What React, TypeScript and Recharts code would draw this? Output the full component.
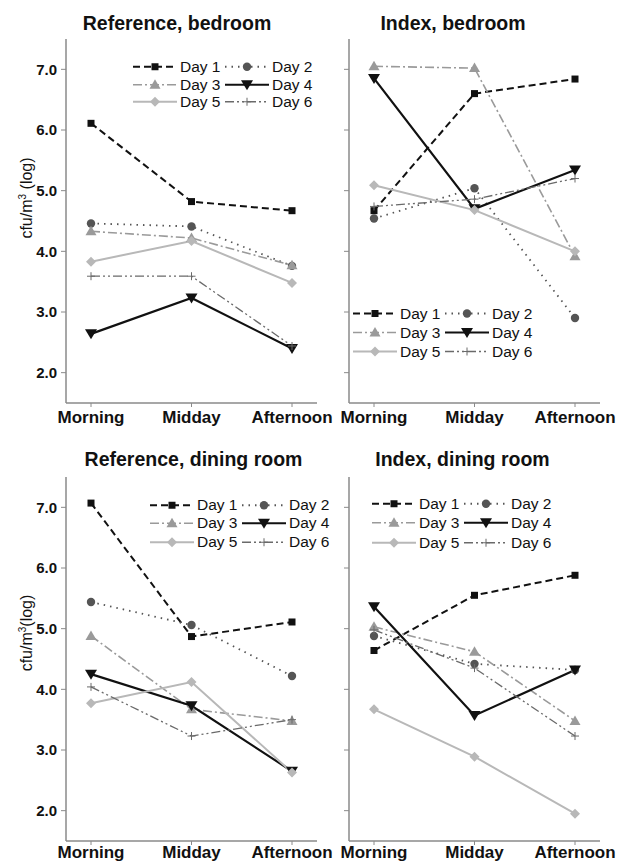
import React from 'react';
import { LineChart, Line, XAxis, YAxis, Legend } from 'recharts';

const times = ['Morning', 'Midday', 'Afternoon'];
const dayNames = ['Day 1', 'Day 2', 'Day 3', 'Day 4', 'Day 5', 'Day 6'];
const yTicks = [2, 3, 4, 5, 6, 7];

// rows: Day 1..Day 6, columns: Morning, Midday, Afternoon
const refBedroom = [
  [6.11, 4.82, 4.67],
  [4.46, 4.41, 3.76],
  [4.33, 4.22, 3.77],
  [2.64, 3.23, 2.4],
  [3.83, 4.17, 3.48],
  [3.59, 3.59, 2.44],
];
const indexBedroom = [
  [4.67, 6.6, 6.84],
  [4.54, 5.04, 2.9],
  [7.05, 7.02, 3.92],
  [6.85, 4.7, 5.34],
  [5.09, 4.68, 4.0],
  [4.74, 4.86, 5.2],
];
const refDining = [
  [7.07, 4.87, 5.11],
  [5.44, 5.06, 4.22],
  [4.88, 3.67, 3.48],
  [4.25, 3.73, 2.65],
  [3.77, 4.12, 2.63],
  [4.04, 3.23, 3.5],
];
const indexDining = [
  [4.64, 5.55, 5.88],
  [4.88, 4.42, 4.32],
  [5.03, 4.62, 3.48],
  [5.36, 3.57, 4.32],
  [3.67, 2.89, 1.95],
  [4.98, 4.35, 3.23],
];

const FONT = '"Liberation Sans", Arial, Helvetica, sans-serif';
const AXIS = '#8a8a8a';

type Sty = { stroke: string; width: number; dash?: string; marker: string; fill: string };
const styles: Sty[] = [
  { stroke: '#111111', width: 2, dash: '7 4', marker: 'square', fill: '#111111' },
  { stroke: '#555555', width: 1.8, dash: '1.5 5', marker: 'circle', fill: '#555555' },
  { stroke: '#9a9a9a', width: 1.6, dash: '9 3 2 3', marker: 'triangle', fill: '#9a9a9a' },
  { stroke: '#111111', width: 2.2, dash: undefined, marker: 'triangleDown', fill: '#111111' },
  { stroke: '#b8b8b8', width: 2, dash: undefined, marker: 'diamond', fill: '#b8b8b8' },
  { stroke: '#6a6a6a', width: 1.3, dash: '9 3 2 3 2 3', marker: 'plus', fill: '#6a6a6a' },
];

function Marker({ shape, cx, cy, color }: { shape: string; cx: number; cy: number; color: string }) {
  switch (shape) {
    case 'square':
      return <rect x={cx - 3.5} y={cy - 3.5} width={7} height={7} fill={color} />;
    case 'circle':
      return <circle cx={cx} cy={cy} r={4.2} fill={color} />;
    case 'triangle':
      return <polygon points={`${cx},${cy - 5.5} ${cx + 5.5},${cy + 4} ${cx - 5.5},${cy + 4}`} fill={color} />;
    case 'triangleDown':
      return <polygon points={`${cx - 6},${cy - 4.5} ${cx + 6},${cy - 4.5} ${cx},${cy + 5.5}`} fill={color} />;
    case 'diamond':
      return <polygon points={`${cx},${cy - 5} ${cx + 5},${cy} ${cx},${cy + 5} ${cx - 5},${cy}`} fill={color} />;
    case 'plus':
      return (
        <g stroke={color} strokeWidth={1}>
          <line x1={cx - 4} y1={cy} x2={cx + 4} y2={cy} />
          <line x1={cx} y1={cy - 4} x2={cx} y2={cy + 4} />
        </g>
      );
    default:
      return <g />;
  }
}

const buildRows = (vals: number[][]) =>
  times.map((t, i) => {
    const row: Record<string, any> = { time: t };
    dayNames.forEach((d, j) => {
      row[d] = vals[j][i];
    });
    return row;
  });

function LegendBox({ rowH }: { rowH: number }) {
  return (
    <div
      style={{
        display: 'grid',
        gridTemplateColumns: '92px 92px',
        fontFamily: FONT,
        fontSize: 15.5,
        color: '#111',
      }}
    >
      {dayNames.map((d, i) => {
        const s = styles[i];
        return (
          <div key={d} style={{ display: 'flex', alignItems: 'center', height: rowH }}>
            <svg width={44} height={rowH} style={{ display: 'block', overflow: 'visible' }}>
              <line
                x1={0}
                y1={rowH / 2}
                x2={44}
                y2={rowH / 2}
                stroke={s.stroke}
                strokeWidth={s.width}
                strokeDasharray={s.dash}
              />
              <Marker shape={s.marker} cx={22} cy={rowH / 2} color={s.fill} />
            </svg>
            <span style={{ marginLeft: 3, whiteSpace: 'nowrap', lineHeight: `${rowH}px` }}>{d}</span>
          </div>
        );
      })}
    </div>
  );
}

type PanelProps = {
  left: number;
  top: number;
  width: number;
  height: number;
  plotLeft: number;
  plotTop: number;
  plotRight: number;
  values: number[][];
  showY: boolean;
  legendX: number;
  legendY: number;
  legendRow: number;
  xMargin: number;
};

function Panel(p: PanelProps) {
  const data = buildRows(p.values);
  const plotH = 364;
  const xh = p.height - p.plotTop - plotH;
  const YTick = (props: any) => {
    const { x, y, payload } = props;
    if (!p.showY) return <g />;
    return (
      <text x={x} y={y} dy={5.3} textAnchor="end" fontSize={15} fontWeight="bold" fill="#111" fontFamily={FONT}>
        {Number(payload.value).toFixed(1)}
      </text>
    );
  };
  return (
    <div style={{ position: 'absolute', left: p.left, top: p.top }}>
      <LineChart
        width={p.width}
        height={p.height}
        data={data}
        margin={{ top: p.plotTop, right: p.width - p.plotRight, bottom: 0, left: 0 }}
        style={{ fontFamily: FONT }}
      >
        <XAxis
          dataKey="time"
          scale="point"
          padding={{ left: 25, right: 25 }}
          interval={0}
          height={xh}
          tickSize={4}
          tickMargin={p.xMargin}
          axisLine={{ stroke: AXIS, strokeWidth: 1.5 }}
          tickLine={{ stroke: AXIS, strokeWidth: 1 }}
          tick={{ fontSize: 17, fontWeight: 'bold', fill: '#111', fontFamily: FONT }}
        />
        <YAxis
          type="number"
          domain={[1.5, 7.5]}
          ticks={yTicks}
          allowDataOverflow
          width={p.plotLeft}
          tickSize={5}
          tickMargin={4}
          axisLine={{ stroke: AXIS, strokeWidth: 1.5 }}
          tickLine={{ stroke: AXIS, strokeWidth: 1 }}
          tick={YTick}
        />
        <Legend
          layout="horizontal"
          verticalAlign="middle"
          align="center"
          wrapperStyle={{ left: p.legendX - p.left, top: p.legendY - p.top, width: 190 }}
          content={() => <LegendBox rowH={p.legendRow} />}
        />
        {dayNames.map((d, i) => {
          const s = styles[i];
          return (
            <Line
              key={d}
              dataKey={d}
              name={d}
              type="linear"
              stroke={s.stroke}
              strokeWidth={s.width}
              strokeDasharray={s.dash}
              isAnimationActive={false}
              activeDot={false}
              dot={(dp: any) => (
                <Marker key={`${d}-${dp.index}`} shape={s.marker} cx={dp.cx} cy={dp.cy} color={s.fill} />
              )}
            />
          );
        })}
      </LineChart>
    </div>
  );
}

function Title({ text, cx, baseline }: { text: string; cx: number; baseline: number }) {
  return (
    <div
      style={{
        position: 'absolute',
        left: cx,
        top: baseline - 17.8,
        transform: 'translateX(-50%)',
        fontFamily: FONT,
        fontSize: 19.5,
        fontWeight: 'bold',
        lineHeight: '22px',
        whiteSpace: 'nowrap',
        color: '#111',
      }}
    >
      {text}
    </div>
  );
}

function YLabel({ cy, space }: { cy: number; space: boolean }) {
  return (
    <div
      style={{
        position: 'absolute',
        left: 25,
        top: cy,
        transform: 'translate(-50%, -50%) rotate(-90deg)',
        fontFamily: FONT,
        fontSize: 16,
        whiteSpace: 'nowrap',
        color: '#111',
        lineHeight: '18px',
      }}
    >
      cfu/m<sup style={{ fontSize: 10 }}>3</sup>
      {space ? ' (log)' : '(log)'}
    </div>
  );
}

export default function App() {
  return (
    <div style={{ position: 'absolute', left: 0, top: 0, width: 619, height: 863, background: '#fff', overflow: 'hidden' }}>
      <Panel left={0} top={0} width={345} height={430} plotLeft={66} plotTop={39} plotRight={317}
        values={refBedroom} showY legendX={133} legendY={58} legendRow={17.5} xMargin={4} />
      <Panel left={300} top={0} width={319} height={430} plotLeft={49} plotTop={39} plotRight={300}
        values={indexBedroom} showY={false} legendX={353} legendY={303.5} legendRow={19} xMargin={4} />
      <Panel left={0} top={430} width={345} height={433} plotLeft={66} plotTop={47} plotRight={317}
        values={refDining} showY legendX={150} legendY={495.5} legendRow={18.5} xMargin={1} />
      <Panel left={300} top={430} width={319} height={433} plotLeft={49} plotTop={47} plotRight={300}
        values={indexDining} showY={false} legendX={372} legendY={493.5} legendRow={19.5} xMargin={1} />
      <Title text="Reference, bedroom" cx={177} baseline={29.3} />
      <Title text="Index, bedroom" cx={453} baseline={29.3} />
      <Title text="Reference, dining room" cx={193.5} baseline={466} />
      <Title text="Index, dining room" cx={462.5} baseline={466} />
      <YLabel cy={198} space />
      <YLabel cy={633} space={false} />
    </div>
  );
}
